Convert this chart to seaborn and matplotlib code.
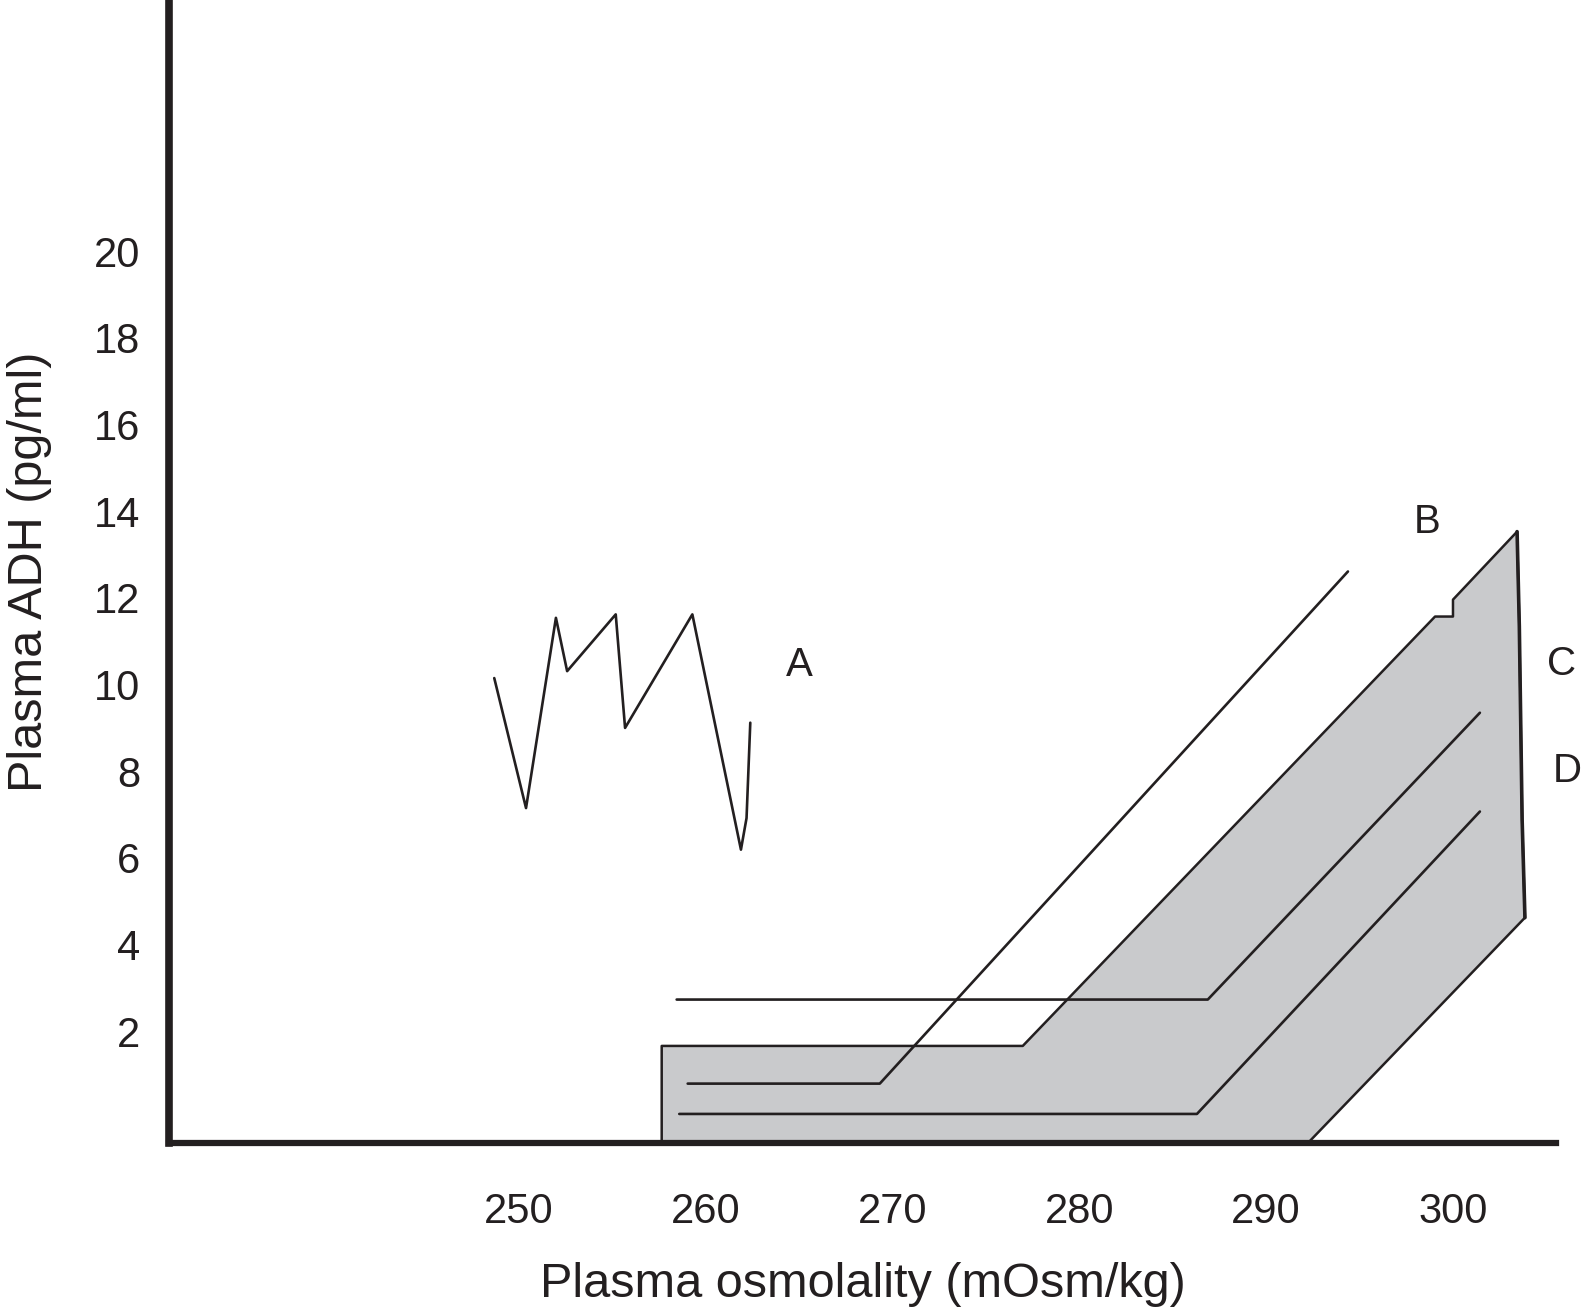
import matplotlib
matplotlib.use("Agg")
import matplotlib.pyplot as plt
import seaborn as sns

# curve A - erratic ADH release
a_osm = [248.7, 250.4, 252.0, 252.6, 255.2, 255.7, 259.3, 261.9, 262.2, 262.4]
a_adh = [10.15, 7.15, 11.54, 10.31, 11.62, 9.0, 11.62, 6.19, 6.92, 9.12]

# curve B - reset osmostat
b_osm = [259.05, 269.33, 294.38]
b_adh = [0.79, 0.79, 12.61]

# curve C
c_osm = [258.46, 286.88, 301.44]
c_adh = [2.73, 2.73, 9.35]

# curve D
d_osm = [258.6, 286.3, 301.44]
d_adh = [0.09, 0.09, 7.07]

# shaded normal range (outline, bottom left -> bottom right)
band_osm = [257.66, 257.66, 276.98, 299.04, 300.0, 300.0, 303.43, 303.55, 303.7, 303.85, 292.24]
band_adh = [-0.58, 1.66, 1.66, 11.57, 11.57, 11.96, 13.53, 11.34, 6.88, 4.62, -0.58]

labels = ["A", "B", "C", "D"]
label_osm = [265.0, 298.6, 305.8, 306.1]
label_adh = [10.45, 13.75, 10.47, 8.0]

x_ticks = [250, 260, 270, 280, 290, 300]
y_ticks = [2, 4, 6, 8, 10, 12, 14, 16, 18, 20]

sns.set_theme(style="white")
plt.rcParams['font.family'] = ['Liberation Sans', 'DejaVu Sans']

ink = '#231f20'
fig = plt.figure(figsize=(15.83, 13.1), dpi=100)
ax = fig.add_axes([0.1068, 0.1275, 0.876, 0.8725])

ax.fill(band_osm, band_adh, color='#c9cacc', lw=0, zorder=1)
sns.lineplot(x=band_osm, y=band_adh, sort=False, estimator=None,
             color=ink, lw=1.8, ax=ax, zorder=2)
# heavier right-hand edge
sns.lineplot(x=band_osm[6:10], y=band_adh[6:10], sort=False, estimator=None,
             color=ink, lw=2.6, ax=ax, zorder=2)

for xs, ys in [(a_osm, a_adh), (b_osm, b_adh), (c_osm, c_adh), (d_osm, d_adh)]:
    sns.lineplot(x=xs, y=ys, sort=False, estimator=None, color=ink, lw=1.9, ax=ax, zorder=3)

for t, x, y in zip(labels, label_osm, label_adh):
    ax.text(x, y, t, fontsize=29, color=ink, ha='center', va='center', clip_on=False)

ax.set_xlim(231.3, 305.5)
ax.set_ylim(-0.58, 25.8)
ax.set_xticks(x_ticks)
ax.set_yticks(y_ticks)
ax.tick_params(axis='both', length=0, labelsize=30, labelcolor=ink)
ax.tick_params(axis='x', pad=35)
ax.tick_params(axis='y', pad=21)

for s in ['top', 'right']:
    ax.spines[s].set_visible(False)
ax.spines['left'].set_linewidth(5.5)
ax.spines['bottom'].set_linewidth(4.5)
ax.spines['left'].set_color(ink)
ax.spines['bottom'].set_color(ink)

ax.set_xlabel("Plasma osmolality (mOsm/kg)", fontsize=35, color=ink, labelpad=22)
ax.set_ylabel("Plasma ADH (pg/ml)", fontsize=35, color=ink, labelpad=30)

fig.savefig("out.png", dpi=100)
